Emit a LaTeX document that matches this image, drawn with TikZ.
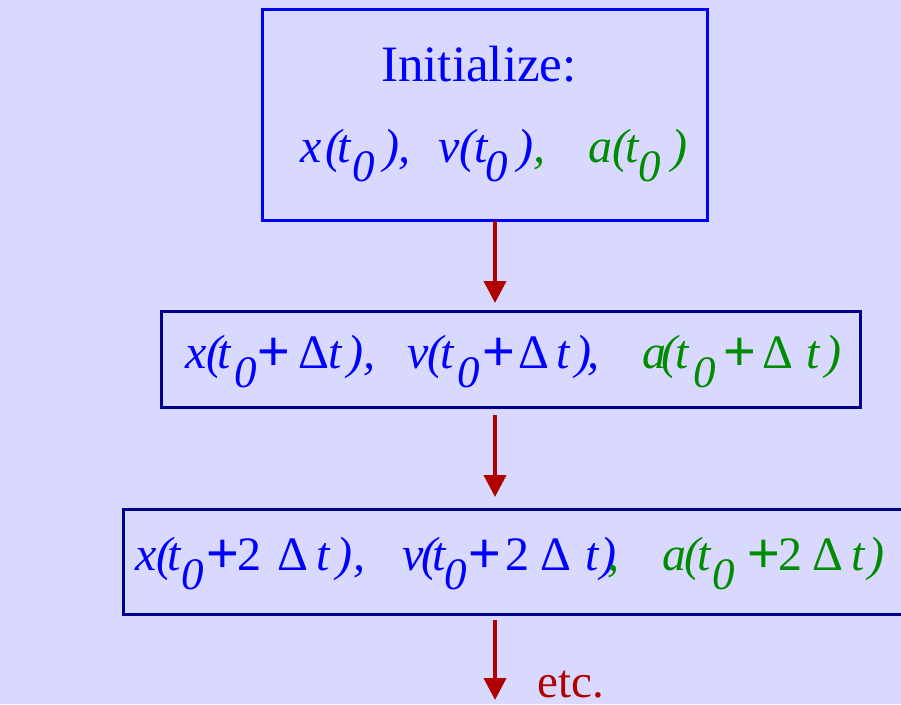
\documentclass[tikz,border=0pt]{standalone}
\usepackage{fontspec}
\setmainfont{Liberation Serif}
\newfontfamily\plusfont{Liberation Sans}
\usetikzlibrary{arrows.meta}
\definecolor{bg}{RGB}{217,217,255}
\definecolor{bblue}{RGB}{0,0,255}
\definecolor{navy}{RGB}{0,0,140}
\definecolor{tgreen}{RGB}{0,140,0}
\definecolor{ared}{RGB}{176,0,0}
\newcommand\gl[2]{\rlap{\hspace*{#1pt}#2}}
\newcommand\zs{\raisebox{-19pt}{\fontsize{45}{45}\selectfont 0}}
\newcommand\pl{\raisebox{-2pt}{\plusfont\upshape\fontsize{56}{56}\selectfont +}}
\newcommand\Dl{{\upshape\fontsize{48}{48}\selectfont Δ}}
\newcommand\two{{\upshape\fontsize{48}{48}\selectfont 2}}
\newcommand\gr{\color{tgreen}}
\begin{document}
\begin{tikzpicture}[x=1pt,y=-1pt,
  boxa/.style={draw=bblue,line width=3pt,inner sep=0pt,minimum width=445pt,minimum height=211pt},
  boxb/.style={draw=navy,line width=3pt,inner sep=0pt,minimum width=699pt,minimum height=96pt},
  boxc/.style={draw=navy,line width=3pt,inner sep=0pt,minimum width=786.5pt,minimum height=105pt},
  lbl/.style={inner sep=0pt,anchor=base west,text=bblue,font=\fontsize{48}{48}\selectfont\itshape},
  arr/.style={draw=ared,line width=4pt,-{Triangle[width=22pt,length=22pt]}}]
\fill[bg] (0,0) rectangle (901,704);
\useasboundingbox (0,0) rectangle (901,704);
\node[boxa] (b1) at (485,114.5) {};
\node[boxb] (b2) at (511,359.5) {};
\node[boxc] (b3) at (516.75,562) {};
\node[inner sep=0pt,anchor=base,text=bblue,font=\fontsize{51}{51}\selectfont] (init) at (479,81) {Initialize:};
\node[lbl] (l1) at (300,162) {\gl{0}{x}\gl{25}{(}\gl{37}{t}\gl{52}{\zs}\gl{83}{)}\gl{98}{,}%
 \gl{138}{v}\gl{159}{(}\gl{174}{t}\gl{185}{\zs}\gl{217}{)}\gl{233}{\gr,}%
 \gl{288}{\gr a}\gl{312}{\gr(}\gl{325}{\gr t}\gl{338}{\gr\zs}\gl{371}{\gr)}\hspace*{385pt}};
\node[lbl] (l2) at (185,368) {\gl{0}{x}\gl{21}{(}\gl{32}{t}\gl{49}{\zs}\gl{72}{\pl}\gl{113}{\Dl}\gl{143}{t}\gl{162}{)}\gl{178}{,}%
 \gl{222}{v}\gl{242}{(}\gl{255}{t}\gl{272}{\zs}\gl{297}{\pl}\gl{333}{\Dl}\gl{371}{t}\gl{390}{)}\gl{402}{,}%
 \gl{457}{\gr a}\gl{476}{\gr(}\gl{490}{\gr t}\gl{508}{\gr\zs}\gl{538}{\gr\pl}\gl{577}{\gr\Dl}\gl{621}{\gr t}\gl{640}{\gr)}\hspace*{655pt}};
\node[lbl] (l3) at (135,570) {\gl{0}{x}\gl{21}{(}\gl{32}{t}\gl{46}{\zs}\gl{71}{\pl}\gl{102}{\two}\gl{142}{\Dl}\gl{181}{t}\gl{201}{)}\gl{218}{,}%
 \gl{267}{v}\gl{286}{(}\gl{297}{t}\gl{309}{\zs}\gl{333}{\pl}\gl{370}{\two}\gl{405}{\Dl}\gl{450}{t}\gl{465}{)}\gl{472}{\gr,}%
 \gl{527}{\gr a}\gl{549}{\gr(}\gl{562}{\gr t}\gl{577}{\gr\zs}\gl{612}{\gr\pl}\gl{643}{\gr\two}\gl{677}{\gr\Dl}\gl{716}{\gr t}\gl{733}{\gr)}\hspace*{750pt}};
\coordinate (ax) at (495,0);
\coordinate (e3) at (495,700);
\node[inner sep=0pt,anchor=base west,text=ared,font=\fontsize{47}{47}\selectfont] (etc) at (537,697) {etc.};
\draw[arr,shorten <=-1pt,shorten >=7pt] (b1.south -| ax) -- (b2.north -| ax);
\draw[arr,shorten <=6pt,shorten >=11pt] (b2.south -| ax) -- (b3.north -| ax);
\draw[arr,shorten <=4pt] (b3.south -| ax) -- (e3);
\end{tikzpicture}
\end{document}
